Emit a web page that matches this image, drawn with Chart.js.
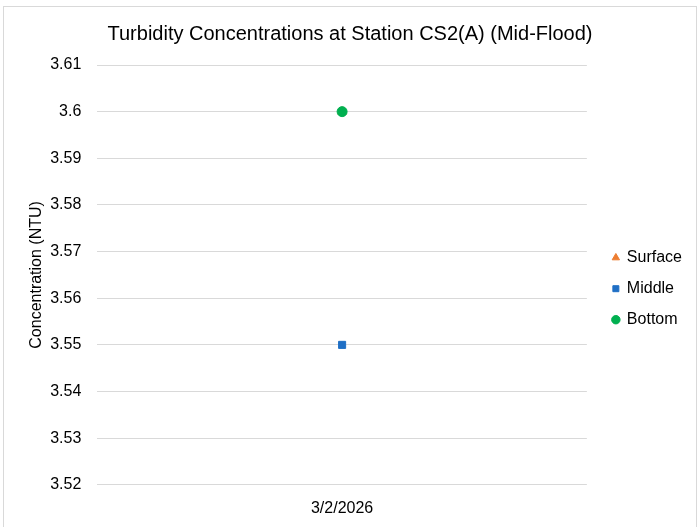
<!DOCTYPE html>
<html>
<head>
<meta charset="utf-8">
<script src="https://cdn.jsdelivr.net/npm/chart.js@4"></script>
<style>
  html, body { margin: 0; padding: 0; background: #fff; }
  #wrap {
    position: absolute; left: 3px; top: 6px;
    width: 694px; height: 525px;
    border: 1px solid #d9d9d9; box-sizing: border-box;
  }
  canvas { display: block; }
</style>
</head>
<body>
<div id="wrap"><canvas id="turbChart"></canvas></div>
<script>
// data
const dates = ['3/2/2026'];
const surface = [3.6];
const middle = [3.55];
const bottom = [3.6];
const yMin = 3.52;
const yMax = 3.61;

// legend gets a little extra room on its left, items stay where they are
const legendGap = 11;
const legendGapPlugin = {
    id: 'legendGap',
    beforeInit(chart) {
        const lg = chart.legend;
        if (!lg) return;
        const fit = lg.fit;
        lg.fit = function() {
            fit.call(this);
            this.width += legendGap;
        };
        const draw = lg.draw;
        lg.draw = function() {
            const c = this.ctx;
            c.save();
            c.translate(legendGap, 0);
            draw.call(this);
            c.restore();
        };
    }
};

document.addEventListener('DOMContentLoaded', function() {
    const ctx = document.getElementById('turbChart');
    const font = "'Liberation Sans', Arial, sans-serif";

    new Chart(ctx, {
        type: 'line',
        plugins: [legendGapPlugin],
        data: {
            labels: dates,
            datasets: [{
                label: 'Surface',
                data: surface,
                showLine: false,
                pointStyle: 'triangle',
                pointRadius: 5,
                backgroundColor: '#ED7D31',
                borderColor: '#ED7D31',
                order: 2
            }, {
                label: 'Middle',
                data: middle,
                showLine: false,
                pointStyle: 'rect',
                pointRadius: 5,
                backgroundColor: '#1F6FC5',
                borderColor: '#1F6FC5',
                order: 1
            }, {
                label: 'Bottom',
                data: bottom,
                showLine: false,
                pointStyle: 'circle',
                pointRadius: 5,
                backgroundColor: '#00B050',
                borderColor: '#00B050',
                order: 0
            }]
        },
        options: {
            responsive: true,
            maintainAspectRatio: false,
            animation: false,
            layout: {
                padding: { left: 4, right: 4, top: 8, bottom: 6 }
            },
            plugins: {
                title: {
                    display: true,
                    text: 'Turbidity Concentrations at Station CS2(A) (Mid-Flood)',
                    color: '#000',
                    font: { family: font, size: 20, weight: 'normal' },
                    padding: { top: 7, bottom: 19 }
                },
                legend: {
                    position: 'right',
                    title: {
                        display: true,
                        text: '',
                        font: { size: 12 },
                        padding: { top: 0, bottom: 24 }
                    },
                    labels: {
                        usePointStyle: true,
                        boxWidth: 6,
                        boxHeight: 6,
                        padding: 15,
                        color: '#000',
                        font: { family: font, size: 16 },
                        sort: function(a, b) { return a.datasetIndex - b.datasetIndex; }
                    }
                },
                tooltip: { enabled: false }
            },
            scales: {
                x: {
                    offset: true,
                    grid: { display: false },
                    border: { display: false },
                    ticks: {
                        color: '#000',
                        font: { family: font, size: 16 },
                        padding: 6
                    }
                },
                y: {
                    min: yMin,
                    max: yMax,
                    border: { display: false },
                    grid: {
                        color: '#d9d9d9',
                        drawTicks: false
                    },
                    ticks: {
                        stepSize: 0.01,
                        color: '#000',
                        font: { family: font, size: 16 },
                        padding: 16,
                        callback: function(v) { return parseFloat(v.toFixed(2)).toString(); }
                    },
                    title: {
                        display: true,
                        text: 'Concentration (NTU)',
                        color: '#000',
                        font: { family: font, size: 16 },
                        padding: { top: 19, bottom: -12 }
                    }
                }
            }
        }
    });
});
</script>
</body>
</html>
